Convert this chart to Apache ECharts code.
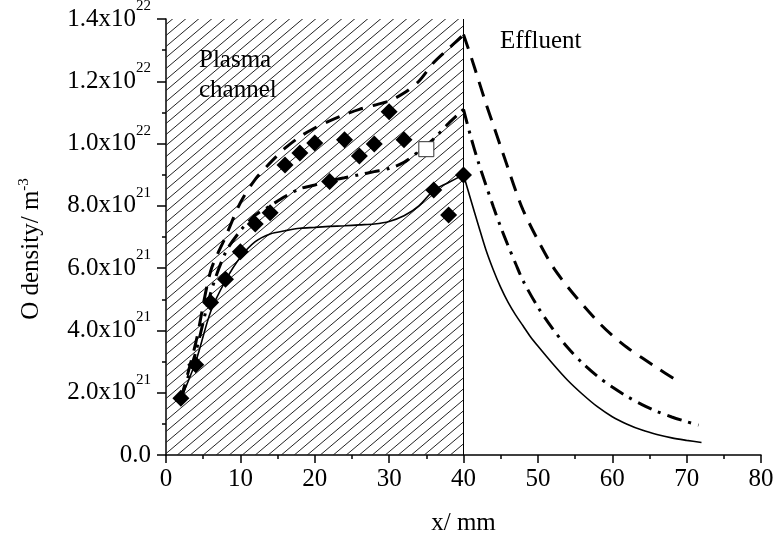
<!DOCTYPE html>
<html>
<head>
<meta charset="utf-8">
<script src="https://cdn.jsdelivr.net/npm/echarts@6/dist/echarts.min.js"></script>
<style>html,body{margin:0;padding:0;background:#fff}#c{width:777px;height:541px}</style>
</head>
<body>
<div id="c"></div>
<script>
// ---- data (x in mm, O density in m^-3) ----
const xTicks = [0, 10, 20, 30, 40, 50, 60, 70, 80];
const yTicks = [0, 2e21, 4e21, 6e21, 8e21, 1e22, 1.2e22, 1.4e22];

const expX = [2, 4, 6, 8, 10, 12, 14, 16, 18, 20, 22, 24, 26, 28, 30, 32, 36, 38, 40];
const expY = [1.82e21, 2.9e21, 4.9e21, 5.64e21, 6.53e21, 7.42e21, 7.78e21, 9.31e21, 9.7e21, 1.002e22,
              8.78e21, 1.012e22, 9.6e21, 9.99e21, 1.102e22, 1.012e22, 8.51e21, 7.71e21, 8.99e21];
const openX = [35];
const openY = [9.82e21];

// solid curve
const solidChanX = [2, 4, 6, 8, 10, 12, 14, 16, 18, 20, 22, 24, 26, 28, 30, 32, 34, 36, 38, 40];
const solidChanY = [1.8e21, 3.0e21, 4.6e21, 5.6e21, 6.35e21, 6.85e21, 7.1e21, 7.2e21, 7.28e21, 7.31e21,
                    7.34e21, 7.36e21, 7.39e21, 7.42e21, 7.5e21, 7.68e21, 8.0e21, 8.5e21, 8.75e21, 9.0e21];
const solidEffX = [40, 41, 42, 43, 44, 45, 46, 47, 48, 49, 50, 52, 54, 56, 58, 60, 62, 64, 66, 68, 70, 72];
const solidEffY = [9.0e21, 8.18e21, 7.38e21, 6.6e21, 5.95e21, 5.38e21, 4.9e21, 4.5e21, 4.15e21, 3.8e21,
                   3.5e21, 2.93e21, 2.4e21, 1.95e21, 1.55e21, 1.23e21, 0.99e21, 0.8e21, 0.66e21, 0.55e21,
                   0.47e21, 0.4e21];

// dash-dot curve
const dashDotChanX = [2, 4, 6, 8, 10, 12, 14, 16, 18, 20, 22, 24, 26, 28, 30, 32, 34, 36, 38, 40];
const dashDotChanY = [1.8e21, 3.3e21, 5.2e21, 6.5e21, 7.2e21, 7.7e21, 8.0e21, 8.3e21, 8.55e21, 8.67e21,
                      8.8e21, 8.9e21, 9.0e21, 9.1e21, 9.2e21, 9.4e21, 9.75e21, 10.15e21, 10.65e21, 11.1e21];
const dashDotEffX = [40, 41, 42, 43, 44, 45, 46, 47, 48, 50, 52, 54, 56, 58, 60, 62, 64, 66, 68, 70, 71.6];
const dashDotEffY = [11.1e21, 10.2e21, 9.4e21, 8.68e21, 7.98e21, 7.32e21, 6.72e21, 6.15e21, 5.6e21, 4.75e21,
                     4.05e21, 3.45e21, 2.95e21, 2.53e21, 2.18e21, 1.88e21, 1.62e21, 1.4e21, 1.22e21, 1.07e21,
                     0.96e21];

// dashed curve
const dashChanX = [2, 4, 6, 8, 10, 12, 14, 16, 18, 20, 22, 24, 26, 28, 30, 32, 34, 36, 38, 40];
const dashChanY = [1.8e21, 3.6e21, 5.9e21, 7.0e21, 8.1e21, 8.85e21, 9.38e21, 9.85e21, 10.22e21, 10.5e21,
                   10.73e21, 10.93e21, 11.1e21, 11.23e21, 11.37e21, 11.62e21, 12.0e21, 12.6e21, 13.05e21, 13.5e21];
const dashEffX = [40, 41, 42, 43, 44, 45, 46, 47, 48, 50, 52, 54, 56, 58, 60, 62, 64, 66, 68.5];
const dashEffY = [13.5e21, 12.8e21, 12.05e21, 11.3e21, 10.6e21, 9.9e21, 9.2e21, 8.5e21, 7.87e21, 6.9e21,
                  6.05e21, 5.4e21, 4.83e21, 4.3e21, 3.84e21, 3.45e21, 3.12e21, 2.8e21, 2.42e21];

const channelRange = [0, 40];

// ---- helpers ----
const FONT = '"Liberation Serif", "Times New Roman", serif';
const zip = (xs, ys) => xs.map((x, i) => [x, ys[i]]);

function hatchPattern() {
  const w = 13, h = 11;
  const c = document.createElement('canvas');
  c.width = w; c.height = h;
  const g = c.getContext('2d');
  g.strokeStyle = '#222';
  g.lineWidth = 1;
  for (let k = -1; k <= 2; k++) {
    g.beginPath();
    const x0 = -w, x1 = 2 * w;
    g.moveTo(x0, h - (h / w) * (x0 - w * k));
    g.lineTo(x1, h - (h / w) * (x1 - w * k));
    g.stroke();
  }
  return { image: c, repeat: 'repeat' };
}

function lineSeries(data, width, dash) {
  return {
    type: 'line', data: data, smooth: 0.3, symbol: 'none', z: 3,
    lineStyle: { color: '#000', width: width, type: dash, cap: 'butt' }
  };
}

const supRich = {
  m: { fontFamily: FONT, fontSize: 25, color: '#000' },
  s: { fontFamily: FONT, fontSize: 15, color: '#000', padding: [0, 0, 26, 0] }
};
const nameRich = {
  m: { fontFamily: FONT, fontSize: 25, color: '#000' },
  s: { fontFamily: FONT, fontSize: 15, color: '#000', padding: [0, 0, 14, 0] }
};

const chart = echarts.init(document.getElementById('c'), null, { renderer: 'canvas' });
chart.setOption({
  animation: false,
  backgroundColor: '#fff',
  grid: { left: 166, right: 16, top: 19, bottom: 86, outerBoundsMode: 'none', containLabel: false },
  xAxis: {
    type: 'value', min: xTicks[0], max: xTicks[xTicks.length - 1], interval: 10,
    name: 'x/ mm', nameLocation: 'middle', nameGap: 56,
    nameTextStyle: { fontFamily: FONT, fontSize: 25, color: '#000' },
    axisLine: { lineStyle: { color: '#000', width: 1.5 } },
    axisTick: { length: 8, lineStyle: { color: '#000', width: 1.5 } },
    minorTick: { show: true, splitNumber: 2, length: 4, lineStyle: { color: '#000', width: 1.5 } },
    splitLine: { show: false },
    axisLabel: { fontFamily: FONT, fontSize: 25, color: '#000', margin: 12 }
  },
  yAxis: {
    type: 'value', min: yTicks[0], max: yTicks[yTicks.length - 1], interval: 2e21,
    name: '{m|O density/ m}{s|-3}', nameLocation: 'middle', nameGap: 120, nameRotate: 90,
    nameTextStyle: { rich: nameRich, padding: [0, 24, 0, 0] },
    axisLine: { show: true, lineStyle: { color: '#000', width: 1.5 } },
    axisTick: { show: true, length: 9, lineStyle: { color: '#000', width: 1.5 } },
    minorTick: { show: true, splitNumber: 2, length: 4, lineStyle: { color: '#000', width: 1.5 } },
    splitLine: { show: false },
    axisLabel: {
      margin: 15,
      formatter: function (v) {
        if (v === 0) return '{m|0.0}';
        const e = Math.floor(Math.log10(v) + 1e-9);
        const m = v / Math.pow(10, e);
        return '{m|' + m.toFixed(1) + 'x10}{s|' + e + '}';
      },
      rich: supRich
    }
  },
  graphic: [
    { type: 'text', left: 199, top: 45, z: 10,
      style: { text: 'Plasma\nchannel', font: '25px ' + FONT, fill: '#000', lineHeight: 30 } },
    { type: 'text', left: 500, top: 29, z: 10,
      style: { text: 'Effluent', font: '25px ' + FONT, fill: '#000' } }
  ],
  series: [
    {
      type: 'line', data: [], z: 1,
      markArea: {
        silent: true,
        itemStyle: { color: hatchPattern(), borderWidth: 0 },
        data: [[{ xAxis: channelRange[0], yAxis: yTicks[0] }, { xAxis: channelRange[1], yAxis: yTicks[yTicks.length - 1] }]]
      },
      markLine: {
        silent: true, symbol: 'none', label: { show: false },
        lineStyle: { color: '#000', width: 1, type: 'solid' },
        data: [{ xAxis: channelRange[1] }]
      }
    },
    lineSeries(zip(solidChanX, solidChanY), 1.6, 'solid'),
    lineSeries(zip(solidEffX, solidEffY), 1.6, 'solid'),
    lineSeries(zip(dashDotChanX, dashDotChanY), 3, [15, 7, 3, 7]),
    lineSeries(zip(dashDotEffX, dashDotEffY), 3, [15, 7, 3, 7]),
    lineSeries(zip(dashChanX, dashChanY), 3, [15, 10]),
    lineSeries(zip(dashEffX, dashEffY), 3, [15, 10]),
    {
      type: 'scatter', data: zip(expX, expY), symbol: 'diamond', symbolSize: 17, z: 5,
      itemStyle: { color: '#000', opacity: 1 }
    },
    {
      type: 'scatter', data: zip(openX, openY), symbol: 'rect', symbolSize: 15, z: 6,
      itemStyle: { color: '#fff', borderColor: '#333', borderWidth: 1, opacity: 1 }
    }
  ]
});
</script>
</body>
</html>
